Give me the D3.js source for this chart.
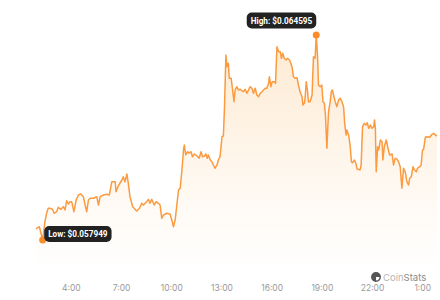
<!DOCTYPE html>
<html>
<head>
<meta charset="utf-8">
<script src="https://cdn.jsdelivr.net/npm/d3@7"></script>
<style>
  body { margin: 0; background: #fff; }
  svg { display: block; font-family: Inter, "Noto Sans", sans-serif; }
</style>
</head>
<body>
<div id="chart"></div>
<script>
// minutes since 0:00 of the first day, price in USD
var minutes = [115,127,139,147,153,159,165,174,180,189,195,204,213,219,225,231,237,243,247,251,
  259,267,275,285,291,297,303,309,321,333,339,345,357,369,378,387,399,402,410,423,
  428,434,441,446,452,462,470,476,486,494,500,512,518,524,530,539,546,554,560,566,
  572,584,596,602,608,614,620,626,632,638,644,647,652,659,664,671,676,683,688,695,
  700,707,712,719,724,729,733,740,746,751,757,764,769,775,782,787,791,796,800,805,
  808,815,820,825,829,835,841,847,853,859,865,871,877,883,889,895,901,907,913,919,
  925,931,937,943,949,952,957,962,969,974,979,985,991,995,1000,1005,1012,1017,1024,1029,
  1034,1038,1045,1051,1056,1062,1069,1072,1077,1080,1084,1089,1092,1098,1105,1108,1110,1116,1120,1125,
  1128,1134,1140,1144,1149,1153,1158,1164,1170,1174,1178,1182,1188,1194,1200,1206,1212,1218,1222,1227,
  1230,1236,1242,1246,1250,1257,1262,1267,1272,1277,1281,1286,1292,1298,1303,1308,1314,1320,1326,1329,
  1332,1335,1340,1344,1350,1356,1359,1364,1371,1376,1383,1392,1397,1403,1410,1415,1421,1427,1433,1439,
  1445,1451,1455,1461,1467,1472,1479,1483,1491,1496,1501,1505,1511,1517,1527,1535,1541,1547,1553];

var prices = [0.058306,0.058380,0.057949,0.058542,0.058815,0.058977,0.058977,0.058944,0.058815,0.058866,
  0.059009,0.058944,0.059029,0.058922,0.059223,0.059116,0.059191,0.059191,0.059029,0.058866,
  0.059246,0.059408,0.059440,0.059353,0.059084,0.058866,0.059246,0.059301,0.059301,0.059353,
  0.059084,0.059353,0.059408,0.059431,0.059408,0.059839,0.059839,0.059515,0.059700,0.059894,
  0.060001,0.059839,0.060089,0.059787,0.059353,0.059029,0.058944,0.058889,0.058977,0.059139,
  0.059084,0.059191,0.059268,0.059139,0.059268,0.059084,0.059191,0.059139,0.059084,0.058653,
  0.058760,0.058815,0.058782,0.058597,0.058380,0.058597,0.059084,0.059570,0.059625,0.060186,
  0.060867,0.061029,0.060705,0.060812,0.060760,0.060812,0.060650,0.060737,0.060705,0.060650,
  0.060598,0.060812,0.060650,0.060672,0.060737,0.060598,0.060705,0.060543,0.060487,0.060381,
  0.060274,0.060381,0.060543,0.060650,0.061298,0.061321,0.062271,0.063947,0.063567,0.063678,
  0.063191,0.063191,0.062812,0.062433,0.062812,0.062919,0.062812,0.062835,0.062789,0.062757,
  0.062835,0.062705,0.062812,0.062919,0.062867,0.062705,0.062867,0.062650,0.062595,0.062705,
  0.062757,0.062812,0.062867,0.062867,0.063029,0.063243,0.062919,0.063081,0.063081,0.063029,
  0.064216,0.064054,0.064054,0.063840,0.064002,0.063840,0.063785,0.063840,0.063785,0.063678,
  0.063516,0.063243,0.063191,0.063211,0.062974,0.062757,0.062595,0.062326,0.062381,0.062543,
  0.063081,0.062757,0.062433,0.062433,0.062650,0.063405,0.063892,0.063840,0.064595,0.063840,
  0.062974,0.062919,0.062974,0.062433,0.062381,0.062002,0.060922,0.062109,0.062433,0.062757,
  0.062812,0.062650,0.062433,0.062271,0.062488,0.062543,0.062433,0.062271,0.061732,0.061353,
  0.061515,0.061353,0.060974,0.060487,0.060455,0.060543,0.060436,0.060241,0.060241,0.060218,
  0.060381,0.061622,0.061732,0.061677,0.061752,0.061570,0.061677,0.061570,0.061622,0.061839,
  0.061570,0.060163,0.060974,0.060867,0.061191,0.061136,0.060543,0.060974,0.061191,0.060974,
  0.060705,0.060737,0.060381,0.060598,0.060565,0.060487,0.060325,0.059625,0.060274,0.060163,
  0.059839,0.059732,0.059949,0.060001,0.060325,0.060218,0.060163,0.060274,0.060325,0.060381,
  0.060867,0.060889,0.061279,0.061298,0.061279,0.061376,0.061408,0.061353,0.061321];

var tickMinutes = [240, 420, 600, 780, 960, 1140, 1320, 1500];
var tickLabels = ["4:00", "7:00", "10:00", "13:00", "16:00", "19:00", "22:00", "1:00"];

var width = 440, height = 300;
var margin = {top: 0, right: 3, bottom: 30, left: 36};

function toDate(m) { return new Date(2024, 0, 1, 0, m); }

var data = minutes.map(function(m, i) { return {date: toDate(m), price: prices[i]}; });

var svg = d3.select("#chart")
  .append("svg")
    .attr("width", width)
    .attr("height", height);

var x = d3.scaleTime()
  .domain(d3.extent(data, function(d) { return d.date; }))
  .range([margin.left, width - margin.right]);

var lo = d3.min(prices), hi = d3.max(prices);
var span = hi - lo;
var y = d3.scaleLinear()
  .domain([lo - span * 30 / 205, hi + span * 35 / 205])
  .range([height - margin.bottom, margin.top]);

var defs = svg.append("defs");
var grad = defs.append("linearGradient")
  .attr("id", "fillGrad")
  .attr("gradientUnits", "userSpaceOnUse")
  .attr("x1", 0).attr("x2", 0)
  .attr("y1", y(hi)).attr("y2", height - margin.bottom);
grad.append("stop").attr("offset", 0).attr("stop-color", "#f7931a").attr("stop-opacity", 0.2);
grad.append("stop").attr("offset", 0.6).attr("stop-color", "#f7931a").attr("stop-opacity", 0.07);
grad.append("stop").attr("offset", 1).attr("stop-color", "#f7931a").attr("stop-opacity", 0);

svg.append("path")
  .datum(data)
  .attr("fill", "url(#fillGrad)")
  .attr("d", d3.area()
    .x(function(d) { return x(d.date); })
    .y0(height - margin.bottom)
    .y1(function(d) { return y(d.price); }));

svg.append("path")
  .datum(data)
  .attr("fill", "none")
  .attr("stroke", "#fb9a3f")
  .attr("stroke-width", 1.5)
  .attr("stroke-linejoin", "round")
  .attr("d", d3.line()
    .x(function(d) { return x(d.date); })
    .y(function(d) { return y(d.price); }));

// x axis, labels only
var xAxis = svg.append("g")
  .attr("transform", "translate(0," + (height - margin.bottom) + ")")
  .call(d3.axisBottom(x)
    .tickValues(tickMinutes.map(toDate))
    .tickSize(0)
    .tickPadding(15)
    .tickFormat(function(d, i) { return tickLabels[i]; }));
xAxis.select(".domain").remove();
xAxis.selectAll("text")
  .attr("fill", "#9a9a9a")
  .style("font-size", "8.5px")
  .style("font-family", "Inter, 'Noto Sans', sans-serif");

// low / high markers
var iLo = prices.indexOf(lo), iHi = prices.indexOf(hi);

function marker(d, label, place) {
  var cx = x(d.date), cy = y(d.price);
  svg.append("circle")
    .attr("cx", cx).attr("cy", cy).attr("r", 3.5)
    .attr("fill", "#fb8c2c");
  var g = svg.append("g");
  var t = g.append("text")
    .attr("fill", "#fff")
    .attr("font-size", "8.2px")
    .attr("font-weight", "bold")
    .attr("font-family", "Roboto, sans-serif")
    .attr("dominant-baseline", "central")
    .text(label);
  var w = t.node().getComputedTextLength() + 8, h = 16;
  var bx, by;
  if (place === "right") { bx = cx + 1.5; by = cy - 14; }
  else { bx = cx - w; by = cy - 22.5; }
  g.insert("rect", "text")
    .attr("x", bx).attr("y", by)
    .attr("width", w).attr("height", h)
    .attr("rx", 5)
    .attr("fill", "#222");
  t.attr("x", bx + 4).attr("y", by + h / 2);
}

marker(data[iLo], "Low: $" + lo.toFixed(6), "right");
marker(data[iHi], "High: $" + hi.toFixed(6), "above");

// CoinStats mark
var logo = svg.append("g").attr("transform", "translate(376,277)");
logo.append("circle").attr("r", 4.2).attr("fill", "none").attr("stroke", "#555").attr("stroke-width", 1.5);
logo.append("path")
  .attr("d", d3.arc().innerRadius(0).outerRadius(4.2).startAngle(Math.PI).endAngle(Math.PI * 2.5)())
  .attr("fill", "#555");
var brand = svg.append("text")
  .attr("x", 383).attr("y", 280.5)
  .attr("font-size", "9.5px");
brand.append("tspan").attr("fill", "#b5b5b5").text("Coin");
brand.append("tspan").attr("fill", "#8a8a8a").text("Stats");
</script>
</body>
</html>
